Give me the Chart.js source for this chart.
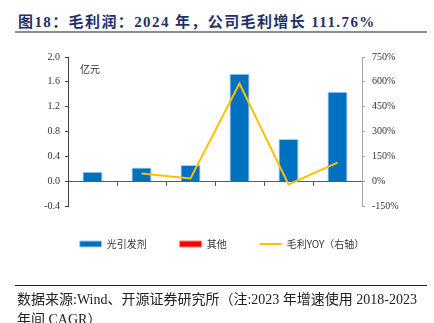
<!DOCTYPE html>
<html>
<head>
<meta charset="utf-8">
<script src="https://cdn.jsdelivr.net/npm/chart.js@4.4.1/dist/chart.umd.min.js"></script>
<style>
  html, body { margin: 0; padding: 0; background: #fff; }
  body { width: 434px; height: 323px; position: relative; overflow: hidden; }
  #chart { position: absolute; left: 0; top: 0; }
  #title {
    position: absolute; left: 18px; top: 10px; line-height: 20px;
    font: bold 15px "Liberation Serif", "Noto Sans CJK SC", serif;
    letter-spacing: 1.4px; color: #1f3167; white-space: nowrap;
  }
  #titleRule { position: absolute; left: 15px; top: 31px; width: 412px; height: 2px; background: #8c8c8c; }
  #footRule { position: absolute; left: 15px; top: 285px; width: 412px; height: 1px; background: #222; }
  #foot {
    position: absolute; left: 17px; top: 288px; line-height: 22px;
    font: 14px "Liberation Serif", "Noto Sans CJK SC", serif;
    color: #222; white-space: nowrap;
  }
</style>
</head>
<body>
<div id="title">图18：毛利润：2024 年，公司毛利增长 111.76%</div>
<div id="titleRule"></div>
<canvas id="chart" width="434" height="323"></canvas>
<div id="footRule"></div>
<div id="foot">数据来源:Wind、开源证券研究所（注:2023 年增速使用 2018-2023<br>年间 CAGR）</div>
<script>
// values
const years = ['2015', '2016', '2017', '2018', '2023', '2024'];
const photoinitiator = [0.15, 0.22, 0.26, 1.73, 0.68, 1.44];   // 亿元
const others = [0, 0, -0.01, 0, 0, 0];                           // 亿元
const grossYoy = [null, 46, 16, 590, -20, 111.76];              // %

const seriesNames = ['光引发剂', '其他', '毛利YOY（右轴）'];

const serif = '"Liberation Serif", "Times New Roman", serif';
const cjk = '"Noto Sans CJK SC", sans-serif';

// "亿元" unit label in the top left corner of the plot
const unitLabel = {
    id: 'unitLabel',
    afterDraw(chart) {
        const {ctx, chartArea} = chart;
        ctx.save();
        ctx.font = '10px ' + cjk;
        ctx.fillStyle = '#333';
        ctx.textBaseline = 'middle';
        ctx.fillText('亿元', chartArea.left + 12, chartArea.top + 12);
        ctx.restore();
    }
};

new Chart(document.getElementById('chart'), {
    type: 'bar',
    data: {
        labels: years,
        datasets: [
            {
                label: seriesNames[0],
                data: photoinitiator,
                backgroundColor: '#0070c0',
                borderColor: '#a9cce8',
                borderWidth: 1,
                barPercentage: 0.41,
                categoryPercentage: 1,
                pointStyle: 'rect',
                xAxisID: 'x',
                yAxisID: 'y',
                order: 1,
            },
            {
                label: seriesNames[1],
                data: others,
                backgroundColor: '#ff0000',
                borderColor: '#ff8080',
                borderWidth: 1,
                barPercentage: 0.41,
                categoryPercentage: 1,
                pointStyle: 'rect',
                xAxisID: 'x',
                yAxisID: 'y',
                order: 1,
            },
            {
                type: 'line',
                label: seriesNames[2],
                data: grossYoy,
                borderColor: '#ffc000',
                backgroundColor: '#ffc000',
                borderWidth: 2,
                pointRadius: 0,
                pointStyle: 'line',
                tension: 0,
                xAxisID: 'x',
                yAxisID: 'y1',
                order: 0,
            },
        ]
    },
    options: {
        responsive: false,
        animation: false,
        layout: {
            padding: { top: 57, left: 10, right: 0, bottom: 64 }
        },
        plugins: {
            tooltip: { enabled: false },
            legend: {
                position: 'bottom',
                labels: {
                    usePointStyle: true,
                    pointStyleWidth: 22,
                    boxHeight: 6,
                    padding: 33,
                    color: '#333',
                    font: { family: cjk, size: 10 },
                    sort: (a, b) => a.datasetIndex - b.datasetIndex,
                }
            }
        },
        scales: {
            x: {
                type: 'category',
                stacked: true,
                offset: true,
                border: { display: false },
                grid: { display: false, drawTicks: false },
                ticks: {
                    padding: 6,
                    color: '#333',
                    font: { family: serif, size: 10 },
                    maxRotation: 0,
                    autoSkip: false,
                },
                afterFit(scale) {
                    scale.height = 0;
                }
            },
            // zero line with small ticks between the years
            x0: {
                type: 'category',
                position: { y: 0 },
                offset: true,
                border: { display: true, color: '#595959', width: 1 },
                grid: {
                    offset: true,
                    drawOnChartArea: false,
                    tickLength: 4,
                    color: '#595959',
                },
                ticks: { display: false },
            },
            y: {
                position: 'left',
                stacked: true,
                min: -0.4,
                max: 2.0,
                border: { display: true, color: '#404040', width: 1 },
                grid: {
                    drawOnChartArea: false,
                    tickLength: 3,
                    color: '#404040',
                },
                ticks: {
                    stepSize: 0.4,
                    padding: 5,
                    color: '#333',
                    font: { family: serif, size: 10 },
                    callback: v => (Math.abs(v) < 1e-9 ? 0 : v).toFixed(1),
                },
                afterFit(scale) {
                    scale.width = 58;
                }
            },
            y1: {
                position: 'right',
                min: -150,
                max: 750,
                border: { display: true, color: '#a6a6a6', width: 1 },
                grid: {
                    drawOnChartArea: false,
                    tickLength: 3,
                    color: '#a6a6a6',
                },
                ticks: {
                    stepSize: 150,
                    padding: 7,
                    color: '#333',
                    font: { family: serif, size: 10 },
                    callback: v => v + '%',
                },
                afterFit(scale) {
                    scale.width = 72;
                }
            }
        }
    },
    plugins: [unitLabel]
});
</script>
</body>
</html>
